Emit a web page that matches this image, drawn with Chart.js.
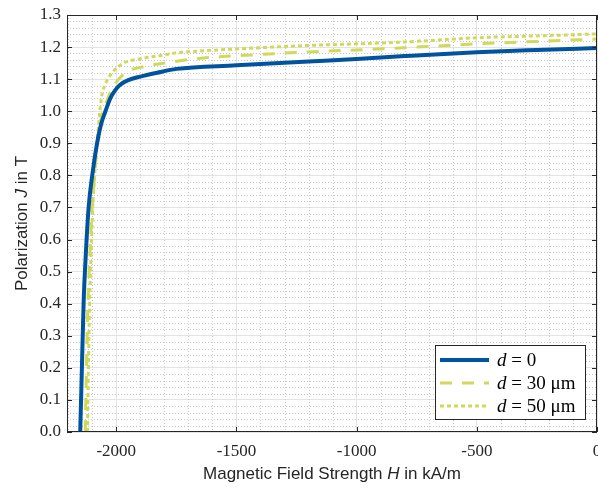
<!DOCTYPE html>
<html>
<head>
<meta charset="utf-8">
<script src="https://cdn.jsdelivr.net/npm/chart.js@4.4.1/dist/chart.umd.min.js"></script>
<style>
  html, body { margin: 0; padding: 0; background: #fff; }
  #wrap { width: 598px; height: 488px; }
</style>
</head>
<body>
<div id="wrap"><canvas id="chart" width="598" height="488"></canvas></div>
<script>
// curve data: H in kA/m, J in T
const hD0 = [-2150, -2143, -2136, -2127, -2115, -2100, -2080, -2063, -2045, -2025, -2005, -1985, -1950, -1900, -1830, -1750, -1500, -1200, -1000, -800, -500, -250, 0];
const jD0 = [0, 0.2, 0.4, 0.55, 0.7, 0.8, 0.9, 0.96, 1.0, 1.04, 1.065, 1.082, 1.097, 1.108, 1.12, 1.132, 1.143, 1.155, 1.163, 1.172, 1.184, 1.191, 1.197];

const hD30 = [-2129, -2124, -2118, -2110, -2100, -2090, -2078, -2062, -2040, -2020, -1990, -1950, -1880, -1800, -1650, -1400, -1200, -1000, -800, -500, -200, 0];
const jD30 = [0, 0.2, 0.4, 0.55, 0.7, 0.8, 0.9, 0.98, 1.03, 1.065, 1.1, 1.125, 1.14, 1.15, 1.165, 1.177, 1.185, 1.191, 1.198, 1.21, 1.219, 1.225];

const hD50 = [-2120, -2116, -2111, -2105, -2098, -2090, -2080, -2062, -2042, -2017, -1975, -1904, -1820, -1750, -1600, -1400, -1200, -1000, -800, -500, -200, 0];
const jD50 = [0, 0.2, 0.4, 0.55, 0.7, 0.8, 0.9, 1.04, 1.09, 1.12, 1.148, 1.163, 1.173, 1.182, 1.19, 1.198, 1.205, 1.21, 1.216, 1.229, 1.236, 1.241];

const xTicks = [-2000, -1500, -1000, -500, 0];
const yTicks = [0, 0.1, 0.2, 0.3, 0.4, 0.5, 0.6, 0.7, 0.8, 0.9, 1.0, 1.1, 1.2, 1.3];
const legendLabels = ['0', '30 μm', '50 μm'];

const blue = '#00549F';
const green = '#D0D95C';
const serif = '"Liberation Serif", "Times New Roman", serif';
const sans = '"Liberation Sans", Arial, sans-serif';

const toPoints = (hs, js) => hs.map((h, i) => ({ x: h, y: js[i] }));

// draws a run of text pieces with different fonts
function drawRun(ctx, parts, x, y, align) {
  let total = 0;
  parts.forEach(p => { ctx.font = p.font; total += ctx.measureText(p.t).width; });
  let cx = align === 'center' ? x - total / 2 : x;
  parts.forEach(p => {
    ctx.font = p.font;
    ctx.fillText(p.t, cx, y);
    cx += ctx.measureText(p.t).width;
  });
}

const matlabAxes = {
  id: 'matlabAxes',
  beforeDatasetsDraw(chart) {
    const { ctx, chartArea: a, scales: { x, y } } = chart;
    ctx.save();
    ctx.strokeStyle = '#c8c8c8';
    ctx.lineWidth = 1;
    ctx.setLineDash([1, 2]);
    // minor grid every 100 kA/m and 0.02 T
    for (let v = -2200; v <= 0; v += 100) {
      if (v % 500 === 0) continue;
      const px = Math.round(x.getPixelForValue(v)) + 0.5;
      ctx.beginPath(); ctx.moveTo(px, a.top); ctx.lineTo(px, a.bottom); ctx.stroke();
    }
    for (let i = 1; i < 65; i++) {
      if (i % 5 === 0) continue;
      const py = Math.round(y.getPixelForValue(i * 0.02)) + 0.5;
      ctx.beginPath(); ctx.moveTo(a.left, py); ctx.lineTo(a.right, py); ctx.stroke();
    }
    ctx.restore();
  },
  afterDatasetsDraw(chart) {
    const { ctx, chartArea: a, scales: { x, y } } = chart;
    ctx.save();
    // box and inward ticks
    ctx.strokeStyle = '#262626';
    ctx.lineWidth = 1;
    ctx.strokeRect(a.left + 0.5, a.top + 0.5, a.right - a.left - 1, a.bottom - a.top - 1);
    ctx.beginPath();
    xTicks.forEach(v => {
      const px = Math.round(x.getPixelForValue(v)) + 0.5;
      ctx.moveTo(px, a.bottom); ctx.lineTo(px, a.bottom - 5);
      ctx.moveTo(px, a.top); ctx.lineTo(px, a.top + 5);
    });
    yTicks.forEach(v => {
      const py = Math.round(y.getPixelForValue(v)) + 0.5;
      ctx.moveTo(a.left, py); ctx.lineTo(a.left + 5, py);
      ctx.moveTo(a.right, py); ctx.lineTo(a.right - 5, py);
    });
    ctx.stroke();

    // legend
    const lx = 435, ly = 345, lw = 150, lh = 74;
    ctx.fillStyle = '#fff';
    ctx.fillRect(lx, ly, lw, lh);
    ctx.strokeStyle = '#262626';
    ctx.strokeRect(lx + 0.5, ly + 0.5, lw, lh);
    chart.data.datasets.forEach((ds, i) => {
      const ry = ly + 15 + i * 23;
      ctx.strokeStyle = ds.borderColor;
      ctx.lineWidth = ds.borderWidth;
      ctx.setLineDash(ds.borderDash || []);
      ctx.beginPath(); ctx.moveTo(lx + 5, ry); ctx.lineTo(lx + 54, ry); ctx.stroke();
      ctx.setLineDash([]);
      ctx.fillStyle = '#000';
      ctx.textBaseline = 'middle';
      drawRun(ctx, [
        { t: 'd', font: 'italic 19px ' + serif },
        { t: ' = ' + legendLabels[i], font: '19px ' + serif }
      ], lx + 62, ry + 1, 'left');
    });

    // axis titles
    ctx.fillStyle = '#262626';
    ctx.textBaseline = 'middle';
    drawRun(ctx, [
      { t: 'Magnetic Field Strength ', font: '17px ' + sans },
      { t: 'H', font: 'italic 17px ' + sans },
      { t: ' in kA/m', font: '17px ' + sans }
    ], (a.left + a.right) / 2, 474, 'center');
    ctx.translate(22, (a.top + a.bottom) / 2);
    ctx.rotate(-Math.PI / 2);
    drawRun(ctx, [
      { t: 'Polarization ', font: '17px ' + sans },
      { t: 'J', font: 'italic 17px ' + sans },
      { t: ' in T', font: '17px ' + sans }
    ], 0, 0, 'center');
    ctx.restore();
  }
};

new Chart(document.getElementById('chart'), {
  type: 'line',
  data: {
    datasets: [
      { data: toPoints(hD0, jD0), borderColor: blue, borderWidth: 4, pointRadius: 0, cubicInterpolationMode: 'monotone' },
      { data: toPoints(hD30, jD30), borderColor: green, borderWidth: 3, borderDash: [12, 10], pointRadius: 0, cubicInterpolationMode: 'monotone' },
      { data: toPoints(hD50, jD50), borderColor: green, borderWidth: 3, borderDash: [4, 3], pointRadius: 0, cubicInterpolationMode: 'monotone' }
    ]
  },
  options: {
    responsive: false,
    animation: false,
    layout: { autoPadding: false, padding: { top: 15, right: 1, left: 0, bottom: 0 } },
    plugins: { legend: { display: false }, tooltip: { enabled: false } },
    scales: {
      x: {
        type: 'linear',
        min: -2205,
        max: 0,
        afterBuildTicks: s => { s.ticks = xTicks.map(v => ({ value: v })); },
        afterFit: s => { s.height = 56; s.paddingLeft = 0; s.paddingRight = 0; },
        grid: { color: '#e3e3e3', drawTicks: false },
        border: { display: false },
        ticks: { color: '#262626', padding: 9, maxRotation: 0, font: { family: serif, size: 17 }, callback: v => String(v) }
      },
      y: {
        min: 0,
        max: 1.3,
        afterBuildTicks: s => { s.ticks = yTicks.map(v => ({ value: v })); },
        afterFit: s => { s.width = 67; s.paddingTop = 0; s.paddingBottom = 0; },
        grid: { color: '#e3e3e3', drawTicks: false },
        border: { display: false },
        ticks: { color: '#262626', padding: 6, font: { family: serif, size: 17 }, callback: v => v.toFixed(1) }
      }
    }
  },
  plugins: [matlabAxes]
});
</script>
</body>
</html>
